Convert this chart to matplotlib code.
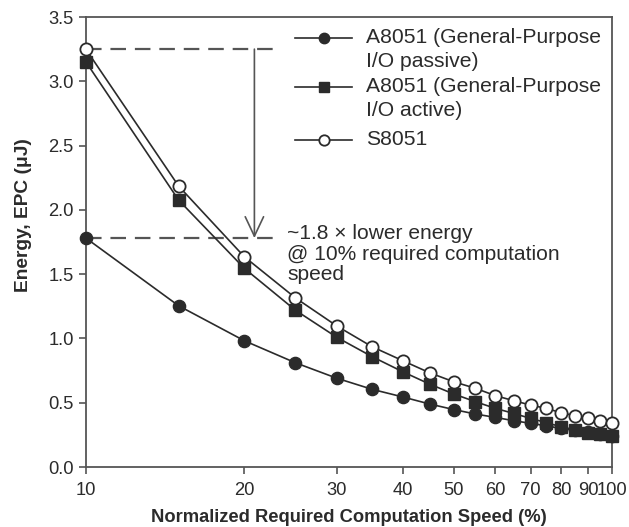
import matplotlib
matplotlib.use("Agg")
import matplotlib.pyplot as plt
from matplotlib.lines import Line2D
from matplotlib.ticker import FixedLocator, NullLocator

plt.rcParams["font.family"] = ["Liberation Sans", "DejaVu Sans"]

# data
speed = [10, 15, 20, 25, 30, 35, 40, 45, 50, 55, 60, 65, 70, 75, 80, 85, 90, 95, 100]
a8051_passive = [1.78, 1.254, 0.982, 0.811, 0.69, 0.604, 0.545, 0.49, 0.447, 0.412,
                 0.386, 0.36, 0.34, 0.32, 0.30, 0.285, 0.27, 0.256, 0.245]
a8051_active = [3.15, 2.076, 1.545, 1.22, 1.008, 0.858, 0.741, 0.645, 0.568, 0.508,
                0.456, 0.417, 0.378, 0.345, 0.313, 0.288, 0.267, 0.255, 0.241]
s8051 = [3.248, 2.185, 1.635, 1.316, 1.096, 0.935, 0.827, 0.733, 0.663, 0.612,
         0.555, 0.516, 0.482, 0.456, 0.422, 0.399, 0.378, 0.36, 0.34]

labels = ["A8051 (General-Purpose\nI/O passive)",
          "A8051 (General-Purpose\nI/O active)",
          "S8051"]
x_ticks = [10, 20, 30, 40, 50, 60, 70, 80, 90, 100]
y_ticks = [0.0, 0.5, 1.0, 1.5, 2.0, 2.5, 3.0, 3.5]

# annotation values
ref_high = 3.25
ref_low = 1.78
dash_end = 22.7
arrow_x = 20.9

W, H = 629, 527
INK = "#2b2b2b"
AXC = "#555555"

fig = plt.figure(figsize=(W / 100, H / 100), dpi=100)
ax = fig.add_axes([86 / W, 1 - 467 / H, 526 / W, 450 / H])

ax.set_xscale("log")
ax.set_xlim(10, 100)
ax.set_ylim(0, 3.5)

styles = [
    dict(marker="o", markersize=8.8, markerfacecolor=INK, markeredgecolor=INK),
    dict(marker="s", markersize=8.2, markerfacecolor=INK, markeredgecolor=INK),
    dict(marker="o", markersize=8.8, markerfacecolor="white", markeredgecolor=INK,
         markeredgewidth=1.3),
]
for ys, st in zip([a8051_passive, a8051_active, s8051], styles):
    ax.plot(speed, ys, color=INK, lw=1.2, clip_on=False, zorder=3, **st)

# dashed reference lines and arrow
for yv in (ref_high, ref_low):
    ax.plot([10, dash_end], [yv, yv], color=AXC, lw=1.6,
            dashes=(7, 4), zorder=2)
ax.annotate("", xy=(arrow_x, ref_low), xytext=(arrow_x, ref_high),
            arrowprops=dict(arrowstyle="->,head_length=0.7,head_width=0.33",
                            mutation_scale=20, color=AXC, lw=1.2,
                            shrinkA=0, shrinkB=0))

fig.text(287 / W, 1 - 224 / H,
         "~1.8 \u00d7 lower energy\n@ 10% required computation\nspeed",
         fontsize=15.1, color=INK, va="top", ha="left", linespacing=1.1)

# axes styling
for sp in ax.spines.values():
    sp.set_color(AXC)
    sp.set_linewidth(1.3)
ax.xaxis.set_major_locator(FixedLocator(x_ticks))
ax.xaxis.set_minor_locator(NullLocator())
ax.set_xticklabels([str(v) for v in x_ticks])
ax.set_yticks(y_ticks)
ax.set_yticklabels([f"{v:.1f}" for v in y_ticks])
ax.tick_params(axis="both", direction="out", length=5, width=1.2,
               color=AXC, labelsize=13.2, labelcolor=INK, pad=4)
ax.tick_params(axis="x", pad=6)

ax.set_xlabel("Normalized Required Computation Speed (%)", fontsize=13.2,
              fontweight="bold", color=INK)
ax.xaxis.set_label_coords(0.5, -0.094)
ax.set_ylabel("Energy, EPC (\u03bcJ)", fontsize=13.8, fontweight="bold", color=INK)
ax.yaxis.set_label_coords(-0.102, 0.56)

# legend drawn by hand so the marker sits on the first text line
rows = [38, 87, 140]
text_rows = [28, 77, 130]
for st, lab, ry, ty in zip(styles, labels, rows, text_rows):
    fy = 1 - ry / H
    fig.add_artist(Line2D([295 / W, 352 / W], [fy, fy], color=INK, lw=1.2))
    mst = dict(st)
    mst["markersize"] = st["markersize"] * 0.85
    fig.add_artist(Line2D([323.5 / W], [fy], linestyle="none", **mst))
    fig.text(366 / W, 1 - ty / H, lab, fontsize=15.2, color=INK,
             va="top", ha="left", linespacing=1.35)

fig.savefig("out.png", dpi=100, facecolor="white")
